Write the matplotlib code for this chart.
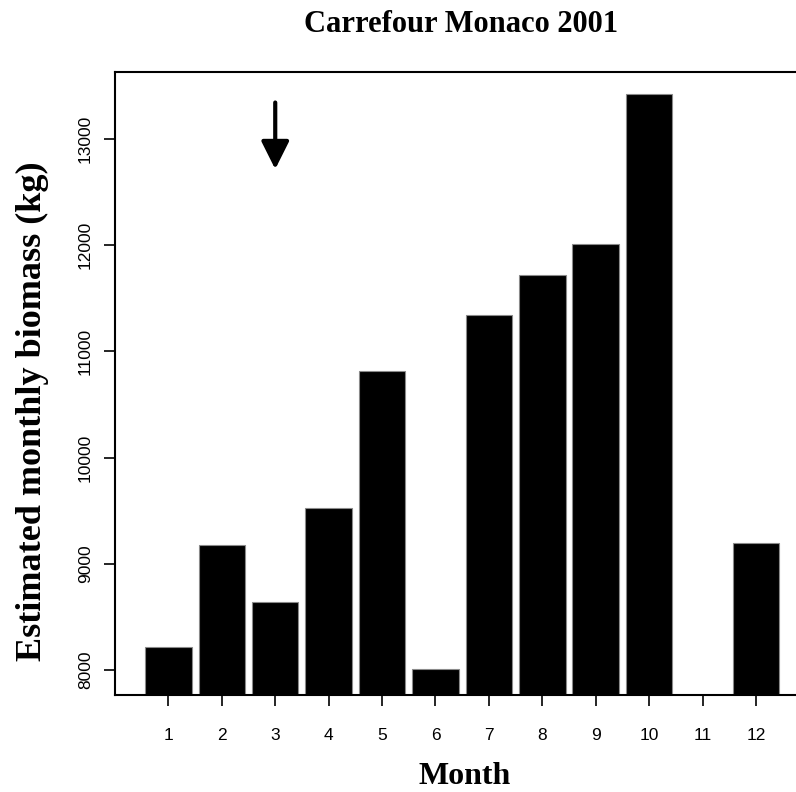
import numpy as np
import matplotlib
matplotlib.use("Agg")
import matplotlib.pyplot as plt

# monthly biomass estimates (month 11 has no bar)
months = [1, 2, 3, 4, 5, 6, 7, 8, 9, 10, 11, 12]
biomass = [8217, 9180, 8640, 9522, 10812, 8008, 11340, 11717, 12008, 13425, np.nan, 9196]
ytick_vals = [8000, 9000, 10000, 11000, 12000, 13000]
arrow_month = 3

fig = plt.figure(figsize=(7.96, 7.92), dpi=100)
ax = fig.add_axes([115 / 796, 97 / 792, 681 / 796, 623 / 792])

ax.bar(months, biomass, width=0.87, color="black", edgecolor="#8a8a8a", linewidth=0.8, zorder=2)

ax.set_xlim(0.0, 12.75)
ax.set_ylim(7765, 13631)
ax.set_xticks(months)
ax.set_yticks(ytick_vals)
ax.set_xticklabels([str(m) for m in months], fontsize=12.5, family="Liberation Sans")
ax.set_yticklabels([str(v) for v in ytick_vals], fontsize=12.5, family="Liberation Sans",
                   rotation=90, va="center")
ax.tick_params(axis="x", direction="out", length=8, width=1.2, pad=16)
ax.tick_params(axis="y", direction="out", length=8, width=1.2, pad=8)

for side in ["left", "top", "bottom"]:
    ax.spines[side].set_linewidth(1.5)
ax.spines["right"].set_visible(False)

# arrow over month 3
ax.annotate("", xy=(arrow_month, 12690), xytext=(arrow_month, 13370),
            arrowprops=dict(arrowstyle="-|>,head_width=0.85,head_length=1.7",
                            color="black", lw=3))

fig.text(461 / 796, 1 - 25 / 792, "Carrefour Monaco 2001", ha="center", va="center",
         fontsize=22, fontweight="bold", family="Liberation Serif")
fig.text(32 / 796, 1 - 411 / 792, "Estimated monthly biomass (kg)", ha="center", va="center",
         rotation=90, fontsize=26, fontweight="bold", family="Liberation Serif")
fig.text(465 / 796, 1 - 777 / 792, "Month", ha="center", va="center",
         fontsize=23, fontweight="bold", family="Liberation Serif")

plt.savefig("out.png", dpi=100)
